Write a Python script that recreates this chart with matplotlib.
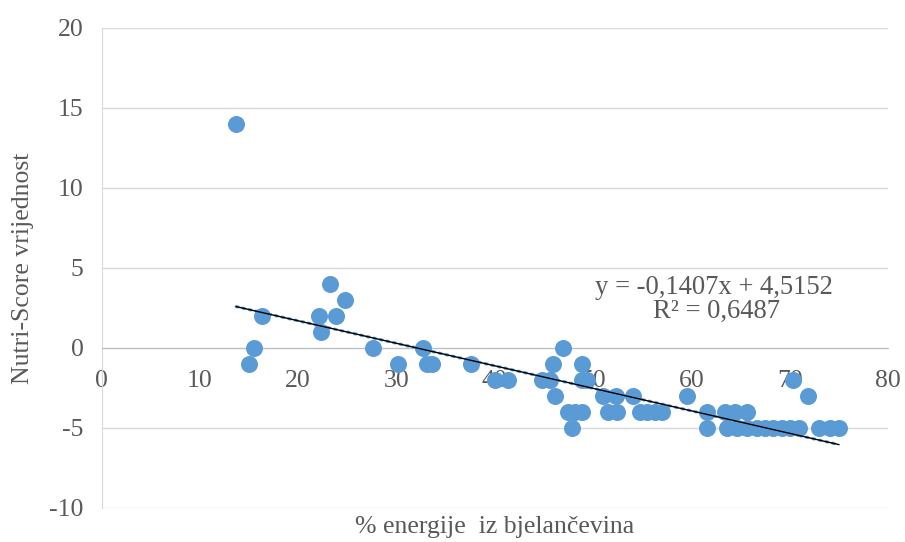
import matplotlib.pyplot as plt
import numpy as np

plt.rcParams['font.family'] = ['Liberation Serif', 'DejaVu Serif']
plt.rcParams['axes.unicode_minus'] = False

# % energije iz bjelančevina (x) and Nutri-Score vrijednost (y)
protein_pct = [13.7, 15.0, 15.5, 16.3, 22.1, 22.3, 23.2, 23.9, 24.8, 27.6,
               30.2, 32.7, 33.1, 33.6, 37.6, 40.0, 41.3, 44.8, 45.6, 45.9,
               46.1, 46.9, 47.4, 48.2, 48.9, 47.9, 48.9, 48.9, 49.4,
               51.0, 52.3, 54.1, 59.6, 71.9,
               51.5, 52.4, 54.8, 55.5, 56.3, 57.0, 61.6, 63.4, 64.4, 65.7,
               61.6, 63.6, 64.6, 65.7, 66.7, 67.5, 68.3, 69.2, 70.0, 70.9,
               73.0, 74.1, 75.0, 70.3]
nutri_score = [14, -1, 0, 2, 2, 1, 4, 2, 3, 0,
               -1, 0, -1, -1, -1, -2, -2, -2, -2, -1,
               -3, 0, -4, -4, -4, -5, -1, -2, -2,
               -3, -3, -3, -3, -3,
               -4, -4, -4, -4, -4, -4, -4, -4, -4, -4,
               -5, -5, -5, -5, -5, -5, -5, -5, -5, -5,
               -5, -5, -5, -2]

# linear trendline reported on the chart
slope = -0.1407
intercept = 4.5152
r_squared = 0.6487

x_ticks = [0, 10, 20, 30, 40, 50, 60, 70, 80]
y_ticks = [-10, -5, 0, 5, 10, 15, 20]

grey_txt = '#595959'
blue = '#5B9BD5'
fs = 18.5

fig = plt.figure(figsize=(9.05, 5.42), dpi=100)
ax = fig.add_axes([101.5 / 905, 1 - 508 / 542, (888 - 101.5) / 905, 480 / 542])

ax.scatter(protein_pct, nutri_score, s=150, color=blue, linewidths=0, zorder=3)

xs = np.array([min(protein_pct), max(protein_pct)])
ys = slope * xs + intercept
ax.plot(xs, ys, color=blue, lw=2.2, ls=(0, (0.6, 1.6)), dash_capstyle='round', zorder=4)
ax.plot(xs, ys, color='black', lw=1.0, zorder=5)

ax.set_xlim(0, 80)
ax.set_ylim(-10, 20)
ax.set_xticks(x_ticks)
ax.set_yticks(y_ticks)

ax.grid(axis='y', color='#D9D9D9', lw=1.0)
ax.set_axisbelow(True)
for s in ['top', 'right']:
    ax.spines[s].set_visible(False)
ax.spines['left'].set_color('#D9D9D9')
ax.spines['bottom'].set_position(('data', 0))
ax.spines['bottom'].set_color('#BFBFBF')

ax.tick_params(axis='both', length=0, labelsize=fs, labelcolor=grey_txt)
ax.tick_params(axis='y', pad=13)
ax.tick_params(axis='x', pad=16)

ax.set_ylabel('Nutri-Score vrijednost', fontsize=fs, color=grey_txt)
ax.yaxis.set_label_coords(-0.1, 0.5)
ax.yaxis.label.set_va('center')
ax.set_xlabel('% energije  iz bjelančevina', fontsize=fs, color=grey_txt)
ax.xaxis.set_label_coords(0.5, -0.04)
ax.xaxis.label.set_va('center')

eq = 'y = {}x + {}'.format(f'{slope:.4f}'.replace('.', ','), f'{intercept:.4f}'.replace('.', ','))
r2 = 'R² = {}'.format(f'{r_squared:.4f}'.replace('.', ','))
fig.text(714 / 905, 1 - 288 / 542, eq, ha='center', va='center', fontsize=19.2, color=grey_txt)
fig.text(716 / 905, 1 - 311 / 542, r2, ha='center', va='center', fontsize=19.2, color=grey_txt)

fig.savefig('out.png', dpi=100)
